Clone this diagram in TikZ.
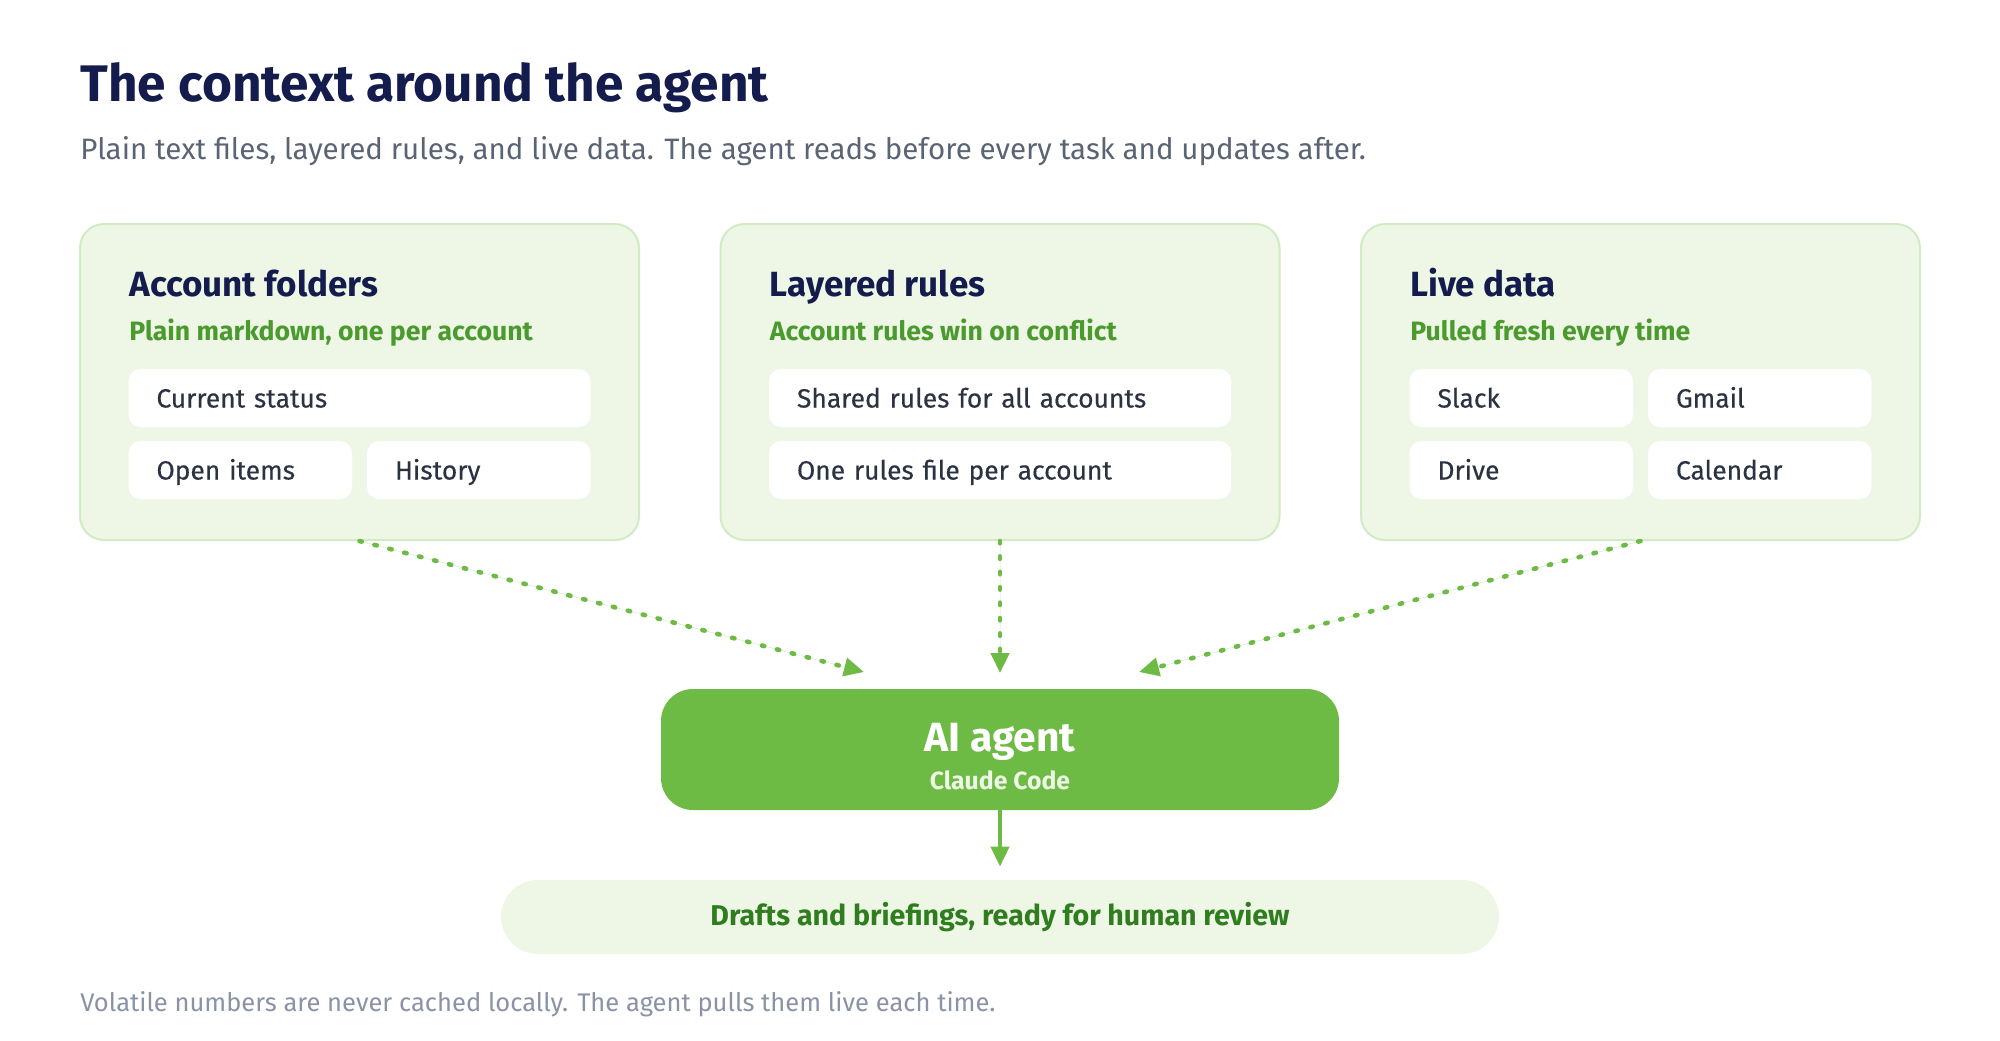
\documentclass[tikz,border=0pt]{standalone}
\usepackage{fontspec}
\setmainfont{Fira Sans}
\newfontfamily\itemfont[FakeBold=0.35]{Fira Sans}
\usetikzlibrary{arrows.meta,positioning}
\definecolor{navy}{HTML}{141B4D}
\definecolor{subgray}{HTML}{5B6475}
\definecolor{notegray}{HTML}{8A93A5}
\definecolor{itemtext}{HTML}{2B3342}
\definecolor{panelfill}{HTML}{EEF7E6}
\definecolor{panelline}{HTML}{D3EAC6}
\definecolor{leafgreen}{HTML}{4B9A2E}
\definecolor{agentgreen}{HTML}{6DBB45}
\definecolor{darkgreen}{HTML}{2F7D1F}

\begin{document}
\begin{tikzpicture}[x=0.5pt, y=-0.5pt,
  panel/.style={draw=panelline, line width=1pt, fill=panelfill, rounded corners=12pt, minimum width=279.5pt, minimum height=158pt},
  item/.style={fill=white, rounded corners=6pt, minimum height=29pt, inner xsep=14pt, align=left, text height=12pt, text depth=2.5pt, font=\itemfont\fontsize{13.2}{15}\selectfont, text=itemtext},
  wideitem/.style={item, text width=203pt},
  halfitem/.style={item, text width=83.75pt},
  head/.style={anchor=base west, inner sep=0pt, font=\bfseries\fontsize{17.5}{20}\selectfont, text=navy},
  tag/.style={anchor=base west, inner sep=0pt, font=\bfseries\fontsize{13.3}{15}\selectfont, text=leafgreen},
  flow/.style={-{Triangle[length=10pt,width=9pt]}, draw=agentgreen, fill=agentgreen, line width=2.3pt, dash pattern=on 1.2pt off 6.5pt, line cap=round}]
  \useasboundingbox[fill=white] (0,0) rectangle (2000,1040);

  % Header
  \node[anchor=base west, inner sep=0pt, font=\bfseries\fontsize{25.7}{30}\selectfont, text=navy] (title) at (80,101) {The context around the agent};
  \node[anchor=base west, inner sep=0pt, font=\fontsize{14.75}{17}\selectfont, text=subgray] (subtitle) at (80,159) {Plain text files, layered rules, and live data. The agent reads before every task and updates after.};

  % Account folders
  \node[panel] (folders) at (359.5,382) {};
  \node[head] (foldershead) at (129,296) {Account folders};
  \node[tag] (folderstag) at (129,340) {Plain markdown, one per account};
  \node[wideitem] (status) at (359.5,398) {Current status};
  \node[halfitem] (open) at (240.25,470) {Open items};
  \node[halfitem] (history) at (478.75,470) {History};

  % Layered rules
  \node[panel] (rules) at (1000,382) {};
  \node[head] (ruleshead) at (769.5,296) {Layered rules};
  \node[tag] (rulestag) at (769.5,340) {Account rules win on conflict};
  \node[wideitem] (shared) at (1000,398) {Shared rules for all accounts};
  \node[wideitem] (perfile) at (1000,470) {One rules file per account};

  % Live data
  \node[panel] (live) at (1640.5,382) {};
  \node[head] (livehead) at (1410,296) {Live data};
  \node[tag] (livetag) at (1410,340) {Pulled fresh every time};
  \node[halfitem] (slack) at (1521.25,398) {Slack};
  \node[halfitem] (gmail) at (1759.75,398) {Gmail};
  \node[halfitem] (drive) at (1521.25,470) {Drive};
  \node[halfitem] (calendar) at (1759.75,470) {Calendar};

  % Agent and output
  \node[fill=agentgreen, rounded corners=16pt, minimum width=339pt, minimum height=60.5pt, align=center, text=white] (agent) at (1000,749.5)
    {{\bfseries\fontsize{20.4}{22}\selectfont\rule{0pt}{21.5pt}AI agent}\\[4pt]{\bfseries\fontsize{12.4}{14}\selectfont\color{panelfill} Claude Code}};
  \node[fill=panelfill, rounded corners=18.5pt, minimum width=499pt, minimum height=37pt, font=\bfseries\fontsize{14.3}{16}\selectfont, text=darkgreen] (output) at (1000,917)
    {Drafts and briefings, ready for human review};

  \coordinate (tipL) at (864,672);
  \coordinate (tipM) at (1000,673);
  \coordinate (tipR) at (1139,672);
  \draw[flow] (folders.south) -- (tipL);
  \draw[flow] (rules.south) -- (tipM);
  \draw[flow] (live.south) -- (tipR);
  \draw[-{Triangle[length=10pt,width=9pt]}, draw=agentgreen, fill=agentgreen, line width=2pt, shorten >=6.5pt] (agent.south) -- (output.north);

  % Note
  \node[anchor=base west, inner sep=0pt, font=\fontsize{12.77}{15}\selectfont, text=notegray] (note) at (80,1011) {Volatile numbers are never cached locally. The agent pulls them live each time.};
\end{tikzpicture}
\end{document}
